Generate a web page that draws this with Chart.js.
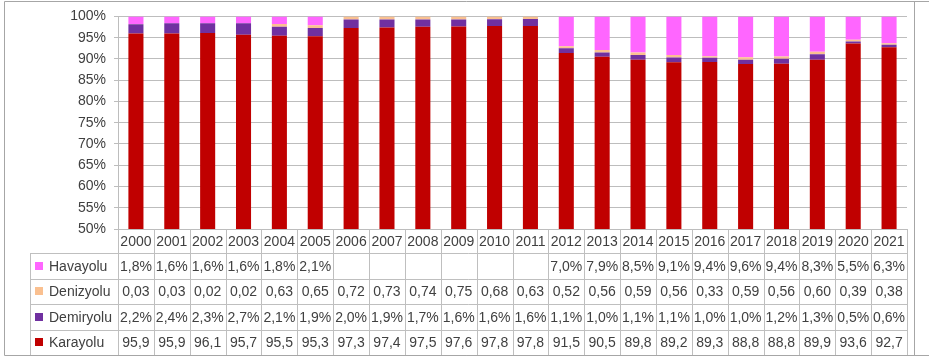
<!DOCTYPE html>
<html>
<head>
<meta charset="utf-8">
<script src="https://cdn.jsdelivr.net/npm/chart.js@4/dist/chart.umd.min.js"></script>
<style>
  html, body { margin: 0; padding: 0; background: #fff; }
  #wrap { width: 929px; height: 360px; position: relative; }
</style>
</head>
<body>
<div id="wrap"><canvas id="shareChart" width="929" height="360"></canvas></div>
<script>
  // Yıllar ve taşıma türlerinin payları
  var years = ['2000','2001','2002','2003','2004','2005','2006','2007','2008','2009','2010',
               '2011','2012','2013','2014','2015','2016','2017','2018','2019','2020','2021'];
  var havayolu = [1.8, 1.6, 1.6, 1.6, 1.8, 2.1, null, null, null, null, null,
                  null, 7.0, 7.9, 8.5, 9.1, 9.4, 9.6, 9.4, 8.3, 5.5, 6.3];
  var denizyolu = [0.03, 0.03, 0.02, 0.02, 0.63, 0.65, 0.72, 0.73, 0.74, 0.75, 0.68,
                   0.63, 0.52, 0.56, 0.59, 0.56, 0.33, 0.59, 0.56, 0.60, 0.39, 0.38];
  var demiryolu = [2.2, 2.4, 2.3, 2.7, 2.1, 1.9, 2.0, 1.9, 1.7, 1.6, 1.6,
                   1.6, 1.1, 1.0, 1.1, 1.1, 1.0, 1.0, 1.2, 1.3, 0.5, 0.6];
  var karayolu = [95.9, 95.9, 96.1, 95.7, 95.5, 95.3, 97.3, 97.4, 97.5, 97.6, 97.8,
                  97.8, 91.5, 90.5, 89.8, 89.2, 89.3, 88.8, 88.8, 89.9, 93.6, 92.7];
  var yTicks = [50, 55, 60, 65, 70, 75, 80, 85, 90, 95, 100];

  var colors = {
    kara: '#C00000',
    demir: '#7030A0',
    deniz: '#FAC090',
    hava: '#FF66FF'
  };

  // %100 yığılmış sütun: her yılın toplamına göre oran
  function share(arr) {
    return arr.map(function(v, i) {
      var total = (karayolu[i] || 0) + (demiryolu[i] || 0) + (denizyolu[i] || 0) + (havayolu[i] || 0);
      return v == null ? 0 : v / total * 100;
    });
  }

  function comma(v, digits, suffix) {
    if (v == null) return '';
    return v.toFixed(digits).replace('.', ',') + (suffix || '');
  }

  var tableRows = [
    { name: 'Havayolu', color: colors.hava, data: havayolu, fmt: function(v){ return comma(v, 1, '%'); } },
    { name: 'Denizyolu', color: colors.deniz, data: denizyolu, fmt: function(v){ return comma(v, 2); } },
    { name: 'Demiryolu', color: colors.demir, data: demiryolu, fmt: function(v){ return comma(v, 1, '%'); } },
    { name: 'Karayolu', color: colors.kara, data: karayolu, fmt: function(v){ return comma(v, 1); } }
  ];

  var textFont = '14px "Liberation Sans", Arial, sans-serif';

  // Alttaki veri tablosu ve çerçeve
  var dataTable = {
    id: 'dataTable',
    afterDraw: function(chart) {
      var ctx = chart.ctx;
      var xs = chart.scales.x;
      var area = chart.chartArea;
      var cellW = area.width / years.length;
      var headTop = area.bottom;
      var headH = 24;
      var rowH = 25.5;
      var legendLeft = 30.5;
      var tableBottom = headTop + headH + rowH * tableRows.length;

      ctx.save();
      ctx.strokeStyle = '#bfbfbf';
      ctx.lineWidth = 1;

      // yatay çizgiler
      ctx.beginPath();
      for (var r = 0; r <= tableRows.length; r++) {
        var y = Math.round(headTop + headH + r * rowH) + 0.5;
        ctx.moveTo(legendLeft, y);
        ctx.lineTo(area.right, y);
      }
      // dikey çizgiler
      for (var c = 0; c <= years.length; c++) {
        var x = Math.round(area.left + c * cellW) + 0.5;
        ctx.moveTo(x, headTop);
        ctx.lineTo(x, tableBottom);
      }
      ctx.moveTo(legendLeft, headTop + headH);
      ctx.lineTo(legendLeft, tableBottom);
      ctx.stroke();

      ctx.font = textFont;
      ctx.fillStyle = '#404040';
      ctx.textAlign = 'center';
      ctx.textBaseline = 'middle';

      years.forEach(function(yr, i) {
        ctx.fillText(yr, xs.getPixelForValue(i), headTop + headH / 2 + 1);
      });

      tableRows.forEach(function(row, r) {
        var cy = headTop + headH + r * rowH + rowH / 2 + 1;
        ctx.textAlign = 'center';
        ctx.fillStyle = '#404040';
        row.data.forEach(function(v, i) {
          ctx.fillText(row.fmt(v), xs.getPixelForValue(i), cy);
        });
        ctx.fillStyle = row.color;
        ctx.fillRect(35, Math.round(cy - 5), 8, 8);
        ctx.fillStyle = '#404040';
        ctx.textAlign = 'left';
        ctx.fillText(row.name, 49, cy);
      });

      // dış çerçeve
      ctx.strokeStyle = '#a6a6a6';
      ctx.beginPath();
      ctx.moveTo(4.5, 1.5); ctx.lineTo(929, 1.5);
      ctx.moveTo(4.5, 355.5); ctx.lineTo(929, 355.5);
      ctx.moveTo(4.5, 1.5); ctx.lineTo(4.5, 355.5);
      ctx.moveTo(914.5, 1.5); ctx.lineTo(914.5, 355.5);
      ctx.stroke();
      ctx.restore();
    }
  };

  var ctx = document.getElementById('shareChart').getContext('2d');

  var myChart = new Chart(ctx, {
    type: 'bar',
    data: {
      labels: years,
      datasets: [
        { label: 'Karayolu', data: share(karayolu), backgroundColor: colors.kara },
        { label: 'Demiryolu', data: share(demiryolu), backgroundColor: colors.demir },
        { label: 'Denizyolu', data: share(denizyolu), backgroundColor: colors.deniz },
        { label: 'Havayolu', data: share(havayolu), backgroundColor: colors.hava }
      ]
    },
    options: {
      responsive: false,
      animation: false,
      devicePixelRatio: 1,
      layout: { padding: { left: 0, right: 22, top: 12, bottom: 131 } },
      datasets: {
        bar: { barPercentage: 0.42, categoryPercentage: 1 }
      },
      plugins: {
        legend: { display: false },
        tooltip: { enabled: false }
      },
      scales: {
        x: {
          stacked: true,
          display: false
        },
        y: {
          stacked: true,
          min: 50,
          max: 100,
          afterFit: function(scale) { scale.width = 118; },
          afterBuildTicks: function(scale) {
            scale.ticks = yTicks.map(function(v) { return { value: v }; });
          },
          ticks: {
            color: '#404040',
            font: { family: '"Liberation Sans", Arial, sans-serif', size: 14 },
            padding: 8,
            callback: function(v) { return v + '%'; }
          },
          grid: { color: '#bdbdbd', tickLength: 4 },
          border: { color: '#bdbdbd' }
        }
      }
    },
    plugins: [dataTable]
  });
</script>
</body>
</html>
